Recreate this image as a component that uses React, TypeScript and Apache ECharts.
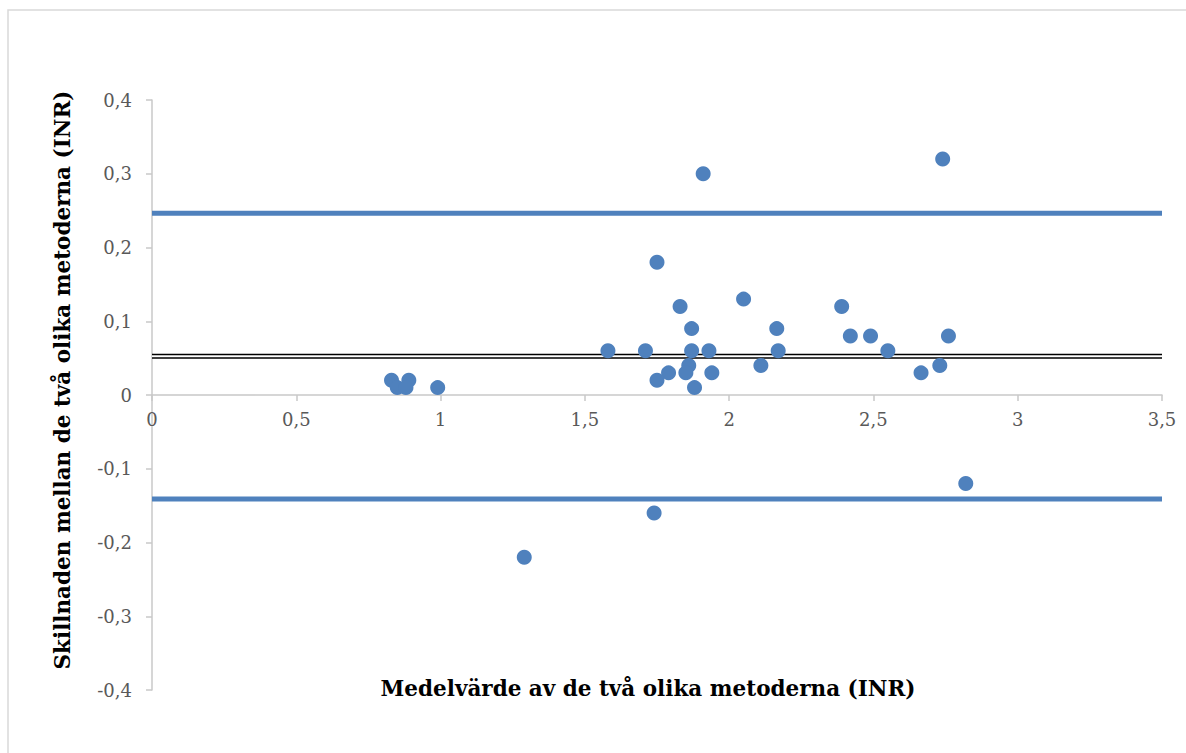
import React, { useEffect, useRef } from "react";
import * as echarts from "echarts";

// Mean of the two methods (INR) and difference between them
const meanValues: number[] = [
  0.83, 0.85, 0.89, 0.88, 0.99,
  1.29, 1.74, 2.82,
  1.75, 1.83, 1.87, 1.58, 1.71, 1.87, 1.93, 1.86, 1.79, 1.85, 1.94, 1.75, 1.88,
  2.05, 2.165, 2.17, 2.11, 2.39, 2.42, 2.49, 2.55, 2.665, 2.73, 2.76,
  2.74, 1.91,
];
const diffValues: number[] = [
  0.02, 0.01, 0.02, 0.01, 0.01,
  -0.22, -0.16, -0.12,
  0.18, 0.12, 0.09, 0.06, 0.06, 0.06, 0.06, 0.04, 0.03, 0.03, 0.03, 0.02, 0.01,
  0.13, 0.09, 0.06, 0.04, 0.12, 0.08, 0.08, 0.06, 0.03, 0.04, 0.08,
  0.32, 0.3,
];

const meanDifference = 0.0526;
const upperLimit = 0.2463;
const lowerLimit = -0.1411;

const xRange: [number, number] = [0, 3.5];
const yRange: [number, number] = [-0.4, 0.4];

const xTitle = "Medelvärde av de två olika metoderna (INR)";
const yTitle = "Skillnaden mellan de två olika metoderna (INR)";

const fmt = (v: number) => String(Math.round(v * 10) / 10).replace(".", ",");

const GRID_TOP = 100;
const GRID_BOTTOM = 63;
const HEIGHT = 753;

export default function App() {
  const ref = useRef<HTMLDivElement>(null);

  useEffect(() => {
    document.body.style.margin = "0";
    if (!ref.current) return;
    const chart = echarts.init(ref.current, undefined, { renderer: "svg" });
    const points = meanValues.map((x, i) => [x, diffValues[i]]);
    const hline = (v: number) => [
      [xRange[0], v],
      [xRange[1], v],
    ];
    // place the x axis where y = 0 lies inside the grid
    const gridH = HEIGHT - GRID_TOP - GRID_BOTTOM;
    const zeroFrac = (0 - yRange[0]) / (yRange[1] - yRange[0]);
    const xAxisOffset = -gridH * zeroFrac;

    const labelFont = {
      fontFamily: "DejaVu Serif",
      fontSize: 18,
      color: "#595959",
    };
    chart.setOption({
      animation: false,
      backgroundColor: "#ffffff",
      grid: { left: 152, right: 24, top: GRID_TOP, bottom: GRID_BOTTOM },
      xAxis: {
        type: "value",
        position: "bottom",
        offset: xAxisOffset,
        min: xRange[0],
        max: xRange[1],
        interval: 0.5,
        axisLine: { show: true, onZero: false, lineStyle: { color: "#c8c8c8", width: 1.5 } },
        axisTick: { show: true, length: 6, lineStyle: { color: "#c8c8c8", width: 1.5 } },
        splitLine: { show: false },
        axisLabel: { ...labelFont, margin: 15, formatter: fmt },
      },
      yAxis: {
        type: "value",
        min: yRange[0],
        max: yRange[1],
        interval: 0.1,
        axisLine: { show: true, onZero: false, lineStyle: { color: "#c8c8c8", width: 1.5 } },
        axisTick: { show: true, length: 6, lineStyle: { color: "#c8c8c8", width: 1.5 } },
        splitLine: { show: false },
        axisLabel: { ...labelFont, margin: 20, formatter: fmt },
      },
      series: [
        {
          type: "line",
          data: hline(upperLimit),
          symbol: "none",
          silent: true,
          z: 1,
          lineStyle: { color: "#4f81bd", width: 5 },
        },
        {
          type: "line",
          data: hline(lowerLimit),
          symbol: "none",
          silent: true,
          z: 1,
          lineStyle: { color: "#4f81bd", width: 5 },
        },
        {
          type: "line",
          data: hline(meanDifference),
          symbol: "none",
          silent: true,
          z: 1,
          lineStyle: { color: "#000000", width: 5 },
        },
        {
          type: "line",
          data: hline(meanDifference),
          symbol: "none",
          silent: true,
          z: 2,
          lineStyle: { color: "#ffffff", width: 2 },
        },
        {
          type: "scatter",
          data: points,
          symbol: "circle",
          symbolSize: 15,
          z: 5,
          itemStyle: { color: "#4f81bd", opacity: 1 },
        },
      ],
      graphic: [
        {
          type: "rect",
          silent: true,
          shape: { x: 8, y: 10, width: 1200, height: 770 },
          style: { fill: "none", stroke: "#d9d9d9", lineWidth: 1.5 },
          z: -10,
        },
        {
          type: "text",
          x: 648,
          y: 688,
          style: {
            text: xTitle,
            fontFamily: "DejaVu Serif",
            fontWeight: "bold",
            fontSize: 21.5,
            fill: "#000000",
            textAlign: "center",
            textVerticalAlign: "middle",
          },
        },
        {
          type: "text",
          x: 62,
          y: 380,
          rotation: Math.PI / 2,
          style: {
            text: yTitle,
            fontFamily: "DejaVu Serif",
            fontWeight: "bold",
            fontSize: 21.5,
            fill: "#000000",
            textAlign: "center",
            textVerticalAlign: "middle",
          },
        },
      ],
    });
    return () => chart.dispose();
  }, []);

  return <div ref={ref} style={{ width: 1186, height: HEIGHT }} />;
}
